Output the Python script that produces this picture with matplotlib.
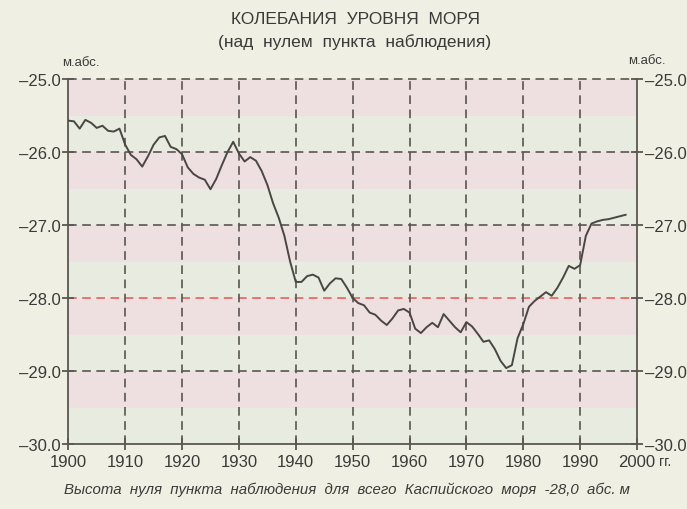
import matplotlib
matplotlib.use("Agg")
import matplotlib.pyplot as plt
import numpy as np

# ---- data ----
years = list(range(1900, 1999))
level = [-25.57, -25.58, -25.68, -25.56, -25.60, -25.67, -25.64, -25.71, -25.72, -25.68,
         -25.90, -26.04, -26.10, -26.20, -26.06, -25.90, -25.80, -25.78, -25.93, -25.96,
         -26.03, -26.21, -26.30, -26.35, -26.38, -26.51, -26.37, -26.18, -26.00, -25.86,
         -26.02, -26.13, -26.07, -26.12, -26.26, -26.45, -26.70, -26.90, -27.15, -27.50,
         -27.78, -27.78, -27.70, -27.68, -27.72, -27.90, -27.80, -27.73, -27.74, -27.86,
         -28.00, -28.07, -28.10, -28.20, -28.23, -28.31, -28.37, -28.28, -28.17, -28.15,
         -28.20, -28.42, -28.48, -28.40, -28.34, -28.40, -28.22, -28.31, -28.40, -28.47,
         -28.33, -28.39, -28.49, -28.60, -28.58, -28.70, -28.86, -28.96, -28.92, -28.55,
         -28.36, -28.12, -28.04, -27.98, -27.92, -27.97, -27.86, -27.72, -27.56, -27.60,
         -27.55, -27.15, -26.98, -26.95, -26.93, -26.92, -26.90, -26.88, -26.86]
x_ticks = [1900, 1910, 1920, 1930, 1940, 1950, 1960, 1970, 1980, 1990, 2000]
y_ticks = [-30.0, -29.0, -28.0, -27.0, -26.0, -25.0]
reference_level = -28.0

title = "КОЛЕБАНИЯ  УРОВНЯ  МОРЯ"
subtitle = "(над  нулем  пункта  наблюдения)"
caption = "Высота  нуля  пункта  наблюдения  для  всего  Каспийского  моря  -28,0  абс. м"

plt.rcParams['font.family'] = ['DejaVu Sans Condensed', 'Liberation Sans', 'DejaVu Sans']
plt.rcParams['font.stretch'] = 'condensed'

page = "#efefe4"
light = "#e8ebe0"
pink = "#eedfe0"
gridc = "#5a5650"
inkc = "#4a4643"
textc = "#3c3a38"

fig = plt.figure(figsize=(6.87, 5.10), dpi=100, facecolor=page)
ax = fig.add_axes([68.3/687, 65/510, (637-68.3)/687, 365/510])
ax.set_facecolor(light)
ax.set_xlim(1900, 2000)
ax.set_ylim(-30, -25)

for k in range(-25, -30, -1):
    ax.axhspan(k - 0.5, k, color=pink, lw=0, zorder=0)

dash = (0, (5.2, 3.3))
for yv in y_ticks[1:]:
    c = "#e8605a" if yv == reference_level else gridc
    ax.axhline(yv, color=c, lw=1.2, ls=dash, zorder=1, clip_on=False)
for xv in x_ticks[1:-1]:
    ax.axvline(xv, color=gridc, lw=1.2, ls=dash, zorder=1)

ax.plot(years, level, color=inkc, lw=1.4, zorder=3)

for s in ["left", "right", "bottom"]:
    ax.spines[s].set_color(gridc)
    ax.spines[s].set_linewidth(1.3)
ax.spines["top"].set_visible(False)

ax.set_xticks(x_ticks)
ax.set_xticklabels([str(v) for v in x_ticks])
ax.set_yticks(y_ticks)
ax.set_yticklabels(["\u2013%.1f" % abs(v) for v in y_ticks])
ax.tick_params(axis="both", direction="inout", length=9, width=1.3, color=gridc,
               labelsize=12, labelcolor=textc)
ax.tick_params(axis="x", pad=3)
ax.tick_params(axis="y", pad=1)
ax.tick_params(axis="y", right=True, labelright=True)

fig.text(356/687, 1 - 20/510, title, ha="center", va="center", fontsize=12.5, color=textc)
fig.text(355/687, 1 - 42/510, subtitle, ha="center", va="center", fontsize=12.5, color=textc)
fig.text(81/687, 1 - 63/510, "м.абс.", ha="center", va="center", fontsize=9.5, color=textc)
fig.text(647/687, 1 - 61/510, "м.абс.", ha="center", va="center", fontsize=9.5, color=textc)
fig.text(659/687, 1 - 462/510, "гг.", ha="left", va="center", fontsize=10, color=textc)
fig.text(347/687, 1 - 490/510, caption, ha="center", va="center", fontsize=10.8,
         style="italic", color=textc)

fig.savefig("out.png", dpi=100, facecolor=page)
